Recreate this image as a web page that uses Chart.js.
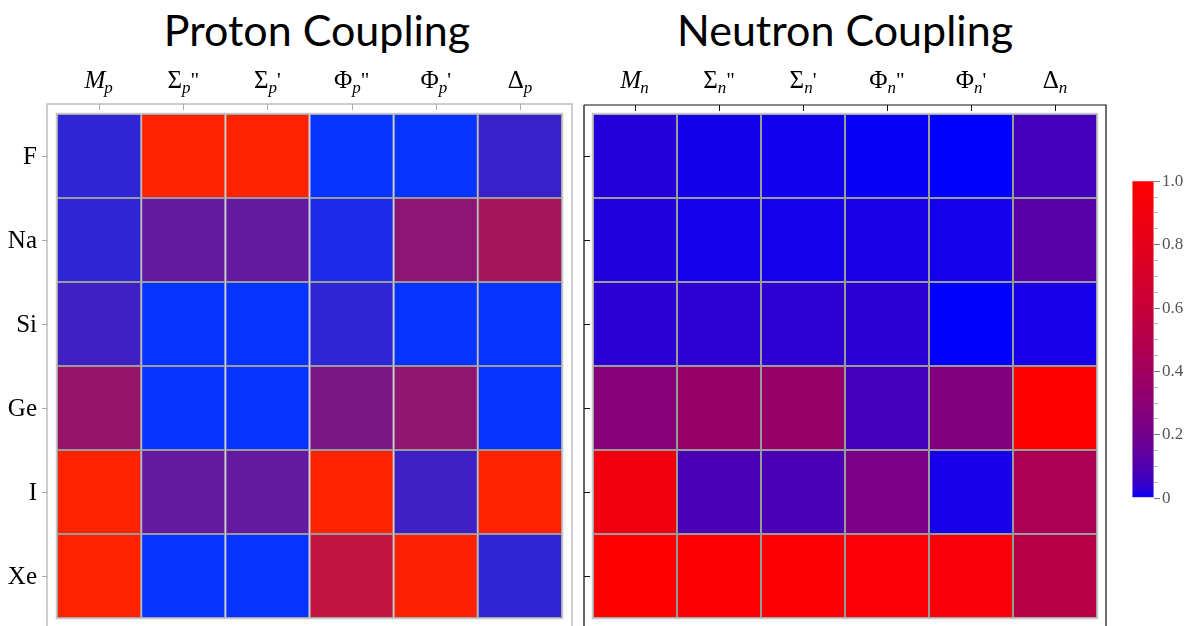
<!DOCTYPE html>
<html>
<head>
<meta charset="utf-8">
<script src="https://cdn.jsdelivr.net/npm/chart.js@4"></script>
<style>
  html, body { margin: 0; padding: 0; background: #fff; }
  #wrap { position: relative; width: 1185px; height: 626px; overflow: hidden; }
  .title { position: absolute; top: 4px; font-family: Lato, "Open Sans", sans-serif; font-size: 43px; color: #000; transform: translateX(-50%); white-space: nowrap; }
  canvas { position: absolute; }
</style>
</head>
<body>
<div id="wrap">
  <div class="title" style="left:317px">Proton Coupling</div>
  <div class="title" style="left:845px">Neutron Coupling</div>
  <canvas id="protonChart" style="left:0;top:0" width="580" height="626"></canvas>
  <canvas id="neutronChart" style="left:575px;top:0" width="610" height="626"></canvas>
  <canvas id="scaleChart" style="left:1100px;top:160px" width="85" height="360"></canvas>
</div>
<script>
// Targets (rows) and operators (columns)
const rowLabels = ['F', 'Na', 'Si', 'Ge', 'I', 'Xe'];
const colSymbols = ['M', 'Σ', 'Σ', 'Φ', 'Φ', 'Δ'];
const colPrimes = ['', '"', "'", '"', "'", ''];
const colItalic = [true, false, false, false, false, false];

// Normalised coupling values, one array per target (F ... Xe)
const protonValues = [
    [0.026, 1.00, 1.00, 0.00, 0.00, 0.044],
    [0.026, 0.14, 0.14, 0.008, 0.29, 0.41],
    [0.053, 0.00, 0.00, 0.026, 0.00, 0.00],
    [0.34, 0.00, 0.00, 0.23, 0.31, 0.00],
    [1.00, 0.14, 0.14, 1.00, 0.053, 1.00],
    [1.00, 0.00, 0.00, 0.56, 0.98, 0.026]
];
const neutronValues = [
    [0.020, 0.005, 0.004, 0.001, 0.00, 0.070],
    [0.017, 0.006, 0.006, 0.010, 0.006, 0.12],
    [0.026, 0.032, 0.032, 0.026, 0.00, 0.008],
    [0.28, 0.35, 0.35, 0.07, 0.26, 1.00],
    [0.90, 0.084, 0.084, 0.23, 0.008, 0.45],
    [1.00, 0.98, 0.98, 0.96, 0.94, 0.52]
];

// Colour bar ticks
const scaleTicks = [0, 0.2, 0.4, 0.6, 0.8, 1.0];
const scaleTickLabels = ['0', '0.2', '0.4', '0.6', '0.8', '1.0'];

// Colour maps: blue -> red
const protonEnds = { lo: [5, 51, 255], hi: [255, 34, 0] };
const neutronEnds = { lo: [0, 0, 255], hi: [255, 0, 0] };

function colorFor(v, ends) {
    const t = Math.sqrt(Math.max(0, Math.min(1, v)));
    const r = ends.lo[0] + (ends.hi[0] - ends.lo[0]) * t;
    const g = ends.lo[1] * (1 - t) * (1 - t) + ends.hi[1] * t * t;
    const b = ends.lo[2] + (ends.hi[2] - ends.lo[2]) * t;
    return `rgb(${Math.round(r)},${Math.round(g)},${Math.round(b)})`;
}

const serif = '"Liberation Serif", "DejaVu Serif", serif';

// Draws frame, ticks and the math-style labels around a heat map
function framePlugin(opts) {
    return {
        id: 'frame',
        afterDraw(chart) {
            const { ctx, chartArea: a, scales: { x, y } } = chart;
            ctx.save();
            // outer light edge around cells
            ctx.strokeStyle = '#c8c8c8';
            ctx.lineWidth = 1.5;
            ctx.strokeRect(a.left - 0.5, a.top - 0.5, a.right - a.left + 1, a.bottom - a.top + 1);

            const fl = a.left - opts.pad, ft = a.top - opts.pad, fr = a.right + opts.pad;
            const fb = chart.height + 5;
            if (opts.dark) {
                ctx.strokeStyle = '#666';
                ctx.lineWidth = 2;
                ctx.beginPath(); ctx.moveTo(fl, ft); ctx.lineTo(fl, fb); ctx.stroke();
                ctx.strokeStyle = '#111';
                ctx.lineWidth = 1.2;
                ctx.beginPath(); ctx.moveTo(fl, ft); ctx.lineTo(fr, ft); ctx.lineTo(fr, fb); ctx.stroke();
            } else {
                ctx.strokeStyle = '#bdbdbd';
                ctx.lineWidth = 1.5;
                ctx.strokeRect(fl, ft, fr - fl, fb - ft);
            }

            // top ticks (inward)
            ctx.strokeStyle = opts.dark ? '#111' : '#aaa';
            ctx.lineWidth = 1;
            colSymbols.forEach((s, i) => {
                const px = Math.round(x.getPixelForTick(i)) + 0.5;
                ctx.beginPath(); ctx.moveTo(px, ft); ctx.lineTo(px, ft + 6); ctx.stroke();
            });
            // left ticks
            rowLabels.forEach((lab, r) => {
                const py = Math.round(y.getPixelForValue(rowLabels.length - r - 0.5)) + 0.5;
                ctx.beginPath();
                if (opts.dark) { ctx.moveTo(fl, py); ctx.lineTo(fl + 6, py); }
                else { ctx.moveTo(fl - 5, py); ctx.lineTo(fl, py); }
                ctx.stroke();
            });

            // column labels with subscripts
            ctx.fillStyle = '#000';
            ctx.textBaseline = 'alphabetic';
            colSymbols.forEach((s, i) => {
                const main = (colItalic[i] ? 'italic ' : '') + '25px ' + serif;
                const sub = 'italic 17px ' + serif;
                ctx.font = main; const w1 = ctx.measureText(s).width;
                ctx.font = sub; const w2 = ctx.measureText(opts.sub).width;
                ctx.font = '21px ' + serif; const w3 = ctx.measureText(colPrimes[i]).width;
                const total = w1 + w2 + w3;
                let px = x.getPixelForTick(i) - total / 2;
                const base = 88;
                ctx.textAlign = 'left';
                ctx.font = main; ctx.fillText(s, px, base); px += w1;
                ctx.font = sub; ctx.fillText(opts.sub, px - (colItalic[i] ? 1 : 0), base + 5); px += w2;
                ctx.font = '21px ' + serif; ctx.fillText(colPrimes[i], px, base - 1);
            });

            // row labels
            if (opts.rowText) {
                ctx.font = '25px ' + serif;
                ctx.textAlign = 'right';
                ctx.textBaseline = 'middle';
                rowLabels.forEach((lab, r) => {
                    ctx.fillText(lab, fl - 10, y.getPixelForValue(rowLabels.length - r - 0.5) + 1);
                });
            }
            ctx.restore();
        }
    };
}

function makeHeatmap(canvasId, values, ends, padding, opts) {
    const datasets = values.map((row, r) => ({
        label: rowLabels[r],
        data: row.map(() => [rowLabels.length - r - 1, rowLabels.length - r]),
        backgroundColor: row.map(v => colorFor(v, ends)),
        borderColor: '#9a9a9a',
        borderWidth: 1,
        borderSkipped: false,
        inflateAmount: 0,
        categoryPercentage: 1,
        barPercentage: 1,
        grouped: false
    }));
    return new Chart(document.getElementById(canvasId), {
        type: 'bar',
        data: { labels: colSymbols.map((s, i) => i), datasets },
        options: {
            responsive: false,
            animation: false,
            layout: { padding },
            plugins: { legend: { display: false }, tooltip: { enabled: false } },
            scales: {
                x: { type: 'category', display: false },
                y: { type: 'linear', min: 0, max: rowLabels.length, display: false }
            }
        },
        plugins: [framePlugin(opts)]
    });
}

makeHeatmap('protonChart', protonValues, protonEnds,
    { left: 57, top: 114, right: 18, bottom: 8 },
    { pad: 10, dark: false, sub: 'p', rowText: true });

makeHeatmap('neutronChart', neutronValues, neutronEnds,
    { left: 18, top: 114, right: 88, bottom: 8 },
    { pad: 9, dark: true, sub: 'n', rowText: false });

// Colour bar
const minorTicks = [];
for (let i = 1; i < 20; i++) if (i % 4 !== 0) minorTicks.push(i / 20);

new Chart(document.getElementById('scaleChart'), {
    type: 'bar',
    data: {
        labels: ['scale'],
        datasets: [{
            data: [[0, 1]],
            backgroundColor: (c) => {
                const area = c.chart.chartArea;
                if (!area) return '#800080';
                const g = c.chart.ctx.createLinearGradient(0, area.bottom, 0, area.top);
                for (let i = 0; i <= 40; i++) g.addColorStop(i / 40, colorFor(i / 40, neutronEnds));
                return g;
            },
            borderColor: '#d0d0d0',
            borderWidth: 0.5,
            borderSkipped: false,
            inflateAmount: 0,
            categoryPercentage: 1,
            barPercentage: 1
        }]
    },
    options: {
        responsive: false,
        animation: false,
        layout: { padding: { left: 32, top: 20.7, right: 31, bottom: 22.3 } },
        plugins: { legend: { display: false }, tooltip: { enabled: false } },
        scales: {
            x: { display: false },
            y: { min: 0, max: 1, display: false }
        }
    },
    plugins: [{
        id: 'scaleTicks',
        afterDraw(chart) {
            const { ctx, chartArea: a, scales: { y } } = chart;
            ctx.save();
            ctx.lineWidth = 1;
            ctx.strokeStyle = '#bbb';
            minorTicks.forEach(v => {
                const py = Math.round(y.getPixelForValue(v)) + 0.5;
                ctx.beginPath(); ctx.moveTo(a.right, py); ctx.lineTo(a.right + 4, py); ctx.stroke();
            });
            ctx.strokeStyle = '#777';
            ctx.fillStyle = '#555';
            ctx.font = '17px ' + serif;
            ctx.textAlign = 'left';
            ctx.textBaseline = 'middle';
            scaleTicks.forEach((v, i) => {
                const py = Math.round(y.getPixelForValue(v)) + 0.5;
                ctx.beginPath(); ctx.moveTo(a.right, py); ctx.lineTo(a.right + 6, py); ctx.stroke();
                ctx.fillText(scaleTickLabels[i], a.right + 8, py);
            });
            ctx.restore();
        }
    }]
});
</script>
</body>
</html>
